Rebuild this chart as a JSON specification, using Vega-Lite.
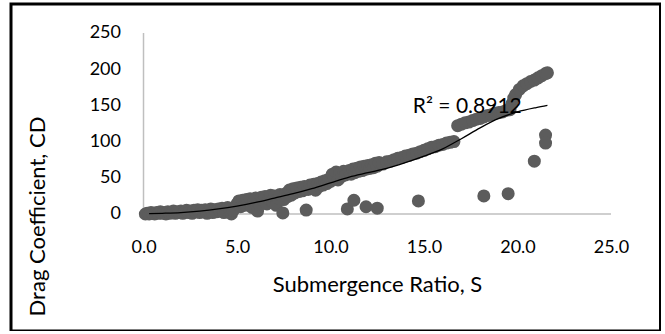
{
  "$schema": "https://vega.github.io/schema/vega-lite/v6.json",
  "autosize": "none",
  "width": 649.5,
  "height": 327,
  "padding": {"left": 11, "top": 4, "right": 0, "bottom": 0},
  "background": "white",
  "config": {
    "view": {"stroke": "#000000", "strokeWidth": 3},
    "font": "Lato",
    "axis": {"labelFont": "Lato", "titleFont": "Lato", "labelFontSize": 18, "titleFontSize": 22, "labelColor": "#000000", "titleColor": "#000000", "titleFontWeight": "normal", "grid": false, "ticks": false, "domain": false}
  },
  "datasets": {
    "points": [
      {"S":0.1,"CD":0},{"S":0.2,"CD":1},{"S":0.3,"CD":0},{"S":0.4,"CD":2},{"S":0.5,"CD":1},{"S":0.6,"CD":0},{"S":0.7,"CD":2},{"S":0.8,"CD":1},{"S":0.9,"CD":3},{"S":1.0,"CD":1},
      {"S":1.1,"CD":2},{"S":1.2,"CD":0},{"S":1.3,"CD":3},{"S":1.4,"CD":1},{"S":1.5,"CD":2},{"S":1.6,"CD":4},{"S":1.7,"CD":1},{"S":1.8,"CD":3},{"S":1.9,"CD":2},{"S":2.0,"CD":4},
      {"S":2.1,"CD":1},{"S":2.2,"CD":3},{"S":2.3,"CD":5},{"S":2.4,"CD":2},{"S":2.5,"CD":4},{"S":2.6,"CD":1},{"S":2.7,"CD":5},{"S":2.8,"CD":3},{"S":2.9,"CD":6},{"S":3.0,"CD":2},
      {"S":3.1,"CD":5},{"S":3.2,"CD":3},{"S":3.3,"CD":6},{"S":3.4,"CD":1},{"S":3.5,"CD":4},{"S":3.6,"CD":7},{"S":3.7,"CD":2},{"S":3.8,"CD":6},{"S":3.9,"CD":3},{"S":4.0,"CD":7},
      {"S":4.1,"CD":4},{"S":4.2,"CD":8},{"S":4.3,"CD":2},{"S":4.4,"CD":6},{"S":4.5,"CD":9},{"S":4.6,"CD":3},{"S":4.7,"CD":0},{"S":4.8,"CD":5},
      {"S":5.0,"CD":14},{"S":5.1,"CD":18},{"S":5.2,"CD":10},{"S":5.3,"CD":19},{"S":5.4,"CD":12},{"S":5.5,"CD":20},{"S":5.6,"CD":15},{"S":5.7,"CD":21},{"S":5.8,"CD":9},{"S":5.9,"CD":17},
      {"S":6.0,"CD":22},{"S":6.1,"CD":4},{"S":6.2,"CD":13},{"S":6.3,"CD":23},{"S":6.4,"CD":18},{"S":6.5,"CD":24},{"S":6.6,"CD":14},{"S":6.7,"CD":21},{"S":6.8,"CD":26},{"S":6.9,"CD":17},
      {"S":7.0,"CD":25},{"S":7.1,"CD":12},{"S":7.2,"CD":22},{"S":7.3,"CD":27},{"S":7.45,"CD":1.5},{"S":7.5,"CD":20},{"S":7.6,"CD":28},{"S":7.7,"CD":24},{"S":7.8,"CD":33},{"S":7.9,"CD":26},
      {"S":8.0,"CD":35},{"S":8.1,"CD":29},{"S":8.2,"CD":36},{"S":8.3,"CD":31},{"S":8.4,"CD":37},{"S":8.5,"CD":32},{"S":8.6,"CD":38},{"S":8.7,"CD":5.5},{"S":8.8,"CD":34},{"S":8.9,"CD":40},
      {"S":9.0,"CD":36},{"S":9.1,"CD":41},{"S":9.2,"CD":33},{"S":9.3,"CD":42},{"S":9.4,"CD":38},{"S":9.5,"CD":44},{"S":9.6,"CD":40},{"S":9.7,"CD":46},{"S":9.8,"CD":42},{"S":9.9,"CD":48},
      {"S":10.0,"CD":45},{"S":10.1,"CD":55},{"S":10.2,"CD":50},{"S":10.3,"CD":58},{"S":10.4,"CD":47},{"S":10.5,"CD":56},{"S":10.6,"CD":52},{"S":10.7,"CD":59},{"S":10.8,"CD":54},{"S":10.9,"CD":7},
      {"S":11.0,"CD":60},{"S":11.1,"CD":55},{"S":11.25,"CD":19},{"S":11.2,"CD":62},{"S":11.3,"CD":57},{"S":11.4,"CD":63},{"S":11.5,"CD":59},{"S":11.6,"CD":65},{"S":11.7,"CD":60},{"S":11.8,"CD":66},
      {"S":11.9,"CD":10},{"S":11.9,"CD":62},{"S":12.0,"CD":67},{"S":12.1,"CD":63},{"S":12.2,"CD":68},{"S":12.3,"CD":64},{"S":12.4,"CD":70},{"S":12.5,"CD":8},{"S":12.5,"CD":66},{"S":12.6,"CD":71},
      {"S":12.8,"CD":69},{"S":13.0,"CD":72},{"S":13.2,"CD":73},{"S":13.4,"CD":75},{"S":13.6,"CD":77},{"S":13.8,"CD":78},{"S":14.0,"CD":80},{"S":14.2,"CD":81},{"S":14.4,"CD":83},{"S":14.6,"CD":84},
      {"S":14.7,"CD":18},{"S":14.8,"CD":86},{"S":15.0,"CD":88},{"S":15.2,"CD":90},{"S":15.4,"CD":92},{"S":15.6,"CD":93},{"S":15.8,"CD":95},{"S":16.0,"CD":96},{"S":16.2,"CD":98},{"S":16.4,"CD":99},
      {"S":16.6,"CD":100},{"S":16.8,"CD":122},{"S":17.0,"CD":124},{"S":17.2,"CD":126},{"S":17.4,"CD":127},{"S":17.6,"CD":129},{"S":17.8,"CD":131},{"S":18.0,"CD":132},{"S":18.2,"CD":134},{"S":18.2,"CD":25},
      {"S":18.4,"CD":136},{"S":18.6,"CD":137},{"S":18.8,"CD":139},{"S":19.0,"CD":140},{"S":19.2,"CD":141},{"S":19.4,"CD":143},{"S":19.5,"CD":28},{"S":19.6,"CD":144},{"S":19.7,"CD":152},{"S":19.8,"CD":160},
      {"S":19.9,"CD":165},{"S":20.1,"CD":172},{"S":20.3,"CD":177},{"S":20.5,"CD":180},{"S":20.7,"CD":183},{"S":20.9,"CD":185},{"S":20.9,"CD":73},{"S":21.1,"CD":188},{"S":21.3,"CD":191},{"S":21.5,"CD":194},
      {"S":21.6,"CD":195},{"S":21.5,"CD":109},{"S":21.5,"CD":98}
    ],
    "trend": [
      {"S":0.3,"CD":0.5},{"S":1,"CD":1},{"S":2,"CD":2},{"S":3,"CD":4},{"S":4,"CD":7},{"S":5,"CD":11},{"S":6,"CD":16},{"S":7,"CD":22},{"S":8,"CD":28},{"S":9,"CD":35},
      {"S":10,"CD":43},{"S":11,"CD":51},{"S":12,"CD":57},{"S":13,"CD":63},{"S":14,"CD":71},{"S":15,"CD":80},{"S":16,"CD":90},{"S":17,"CD":104},{"S":18,"CD":119},{"S":19,"CD":132},
      {"S":20,"CD":141},{"S":21,"CD":147},{"S":21.6,"CD":150}
    ],
    "axes": [
      {"S":0,"S2":25,"CD":0,"CD2":0},
      {"S":0,"S2":0,"CD":0,"CD2":250}
    ],
    "note": [
      {"S":14.4,"CD":139.5,"label":"R² = 0.8912"}
    ]
  },
  "layer": [
    {
      "data": {"name": "axes"},
      "mark": {"type": "rule", "color": "#bfbfbf", "strokeWidth": 1.5},
      "encoding": {
        "x": {"field": "S", "type": "quantitative", "scale": {"domain": [-7.086, 27.647], "nice": false, "zero": false},
          "axis": {"values": [0, 5, 10, 15, 20, 25], "format": ".1f", "offset": -117, "labelPadding": 24, "title": "Submergence Ratio, S", "titleX": 366, "titleY": 77, "titleBaseline": "alphabetic"}},
        "x2": {"field": "S2"},
        "y": {"field": "CD", "type": "quantitative", "scale": {"domain": [-161.6, 290.05], "nice": false, "zero": false},
          "axis": {"values": [0, 50, 100, 150, 200, 250], "format": "d", "offset": -132.5, "labelPadding": 23, "title": "Drag Coefficient, CD", "titleX": -99, "titleY": 212, "titleAngle": 270, "titleBaseline": "alphabetic", "titleAlign": "center"}},
        "y2": {"field": "CD2"}
      }
    },
    {
      "data": {"name": "points"},
      "mark": {"type": "circle", "size": 170, "color": "#5c5c5c", "opacity": 1},
      "encoding": {
        "x": {"field": "S", "type": "quantitative", "scale": {"domain": [-7.086, 27.647], "nice": false, "zero": false},
          "axis": {"values": [0, 5, 10, 15, 20, 25], "format": ".1f", "offset": -117, "labelPadding": 24, "title": "Submergence Ratio, S", "titleX": 366, "titleY": 77, "titleBaseline": "alphabetic"}},
        "y": {"field": "CD", "type": "quantitative", "scale": {"domain": [-161.6, 290.05], "nice": false, "zero": false},
          "axis": {"values": [0, 50, 100, 150, 200, 250], "format": "d", "offset": -132.5, "labelPadding": 23, "title": "Drag Coefficient, CD", "titleX": -99, "titleY": 212, "titleAngle": 270, "titleBaseline": "alphabetic", "titleAlign": "center"}}
      }
    },
    {
      "data": {"name": "trend"},
      "mark": {"type": "line", "color": "#000000", "strokeWidth": 1.3, "interpolate": "monotone"},
      "encoding": {
        "x": {"field": "S", "type": "quantitative"},
        "y": {"field": "CD", "type": "quantitative"}
      }
    },
    {
      "data": {"name": "note"},
      "mark": {"type": "text", "align": "left", "baseline": "alphabetic", "fontSize": 21, "font": "Lato", "color": "#000000"},
      "encoding": {
        "x": {"field": "S", "type": "quantitative"},
        "y": {"field": "CD", "type": "quantitative"},
        "text": {"field": "label"}
      }
    }
  ]
}
